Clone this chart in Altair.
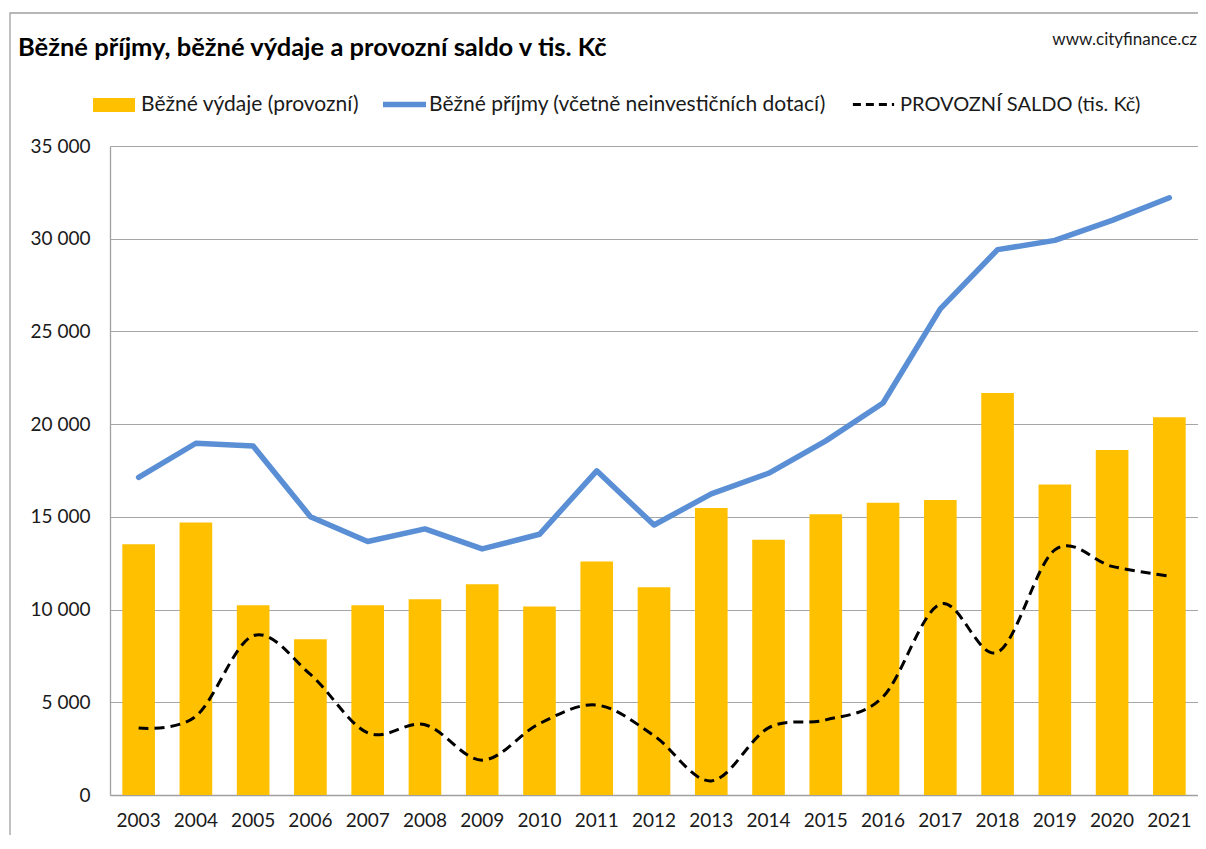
import altair as alt
import pandas as pd

years = [str(y) for y in range(2003, 2022)]
vydaje = [13520, 14690, 10230, 8400, 10230, 10550, 11360, 10160, 12590, 11200,
          15480, 13770, 15140, 15760, 15910, 21680, 16750, 18610, 20370]
prijmy = [17130, 18970, 18820, 15010, 13670, 14350, 13270, 14060, 17480, 14560,
          16240, 17350, 19100, 21140, 26220, 29410, 29910, 30990, 32210]
saldo = [3610, 4250, 8590, 6500, 3350, 3790, 1880, 3850, 4850, 3200,
         760, 3620, 4050, 5300, 10300, 7700, 13220, 12330, 11800]
y_ticks = [0, 5000, 10000, 15000, 20000, 25000, 30000, 35000]

name_v = "Běžné výdaje (provozní)"
name_p = "Běžné příjmy (včetně neinvestičních dotací)"
name_s = "PROVOZNÍ SALDO (tis. Kč)"
title_text = "Běžné příjmy, běžné výdaje a provozní saldo v tis. Kč"
source_text = "www.cityfinance.cz"

df = pd.DataFrame({"rok": years, "vydaje": vydaje, "prijmy": prijmy, "saldo": saldo,
                   "sv": name_v, "sp": name_p, "ss": name_s})

W, H = 1088, 649
FONT = "Lato"

x_enc = alt.X("rok:N", sort=years,
              scale=alt.Scale(paddingInner=0.43, paddingOuter=0.215),
              axis=alt.Axis(title=None, labelAngle=0, ticks=False, domain=True,
                            domainColor="#a0a0a0", domainWidth=1.3, grid=False,
                            labelFontSize=19, labelPadding=16, labelColor="#1a1a1a",
                            labelFont=FONT))
y_scale = alt.Scale(domain=[0, 35000], nice=False)
y_axis = alt.Axis(title=None, values=y_ticks, ticks=False, domain=True,
                  domainColor="#a0a0a0", domainWidth=1.3, grid=True,
                  gridColor="#a6a6a6", gridWidth=1.2, labelFontSize=19,
                  labelPadding=20, labelColor="#1a1a1a", labelFont=FONT,
                  labelExpr="replace(format(datum.value, ','), ',', ' ')")

base = alt.Chart(df)

legend_common = dict(title=None, orient="none", direction="horizontal",
                     labelFont=FONT, labelColor="#1a1a1a",
                     labelLimit=1000, padding=0)

bars = base.mark_bar(color="#FFC000").encode(
    x=x_enc,
    y=alt.Y("vydaje:Q", scale=y_scale, axis=y_axis),
    color=alt.Color("sv:N", scale=alt.Scale(domain=[name_v], range=["#FFC000"]),
                    legend=alt.Legend(legendX=-17, legendY=-62, labelOffset=6,
                                      labelFontSize=21,
                                      symbolType="M-1,-0.33L1,-0.33L1,0.33L-1,0.33Z",
                                      symbolSize=1764, symbolStrokeWidth=0,
                                      **legend_common)),
)

line_p = base.mark_line(strokeWidth=5.5, strokeCap="round", strokeJoin="round").encode(
    x=x_enc,
    y=alt.Y("prijmy:Q", scale=y_scale, axis=y_axis),
    color=alt.Color("sp:N", scale=alt.Scale(domain=[name_p], range=["#5A8FD5"]),
                    legend=alt.Legend(legendX=270, legendY=-66, labelOffset=0,
                                      labelFontSize=21, symbolType="stroke",
                                      symbolSize=1849, symbolStrokeWidth=5.5,
                                      **legend_common)),
)

line_s = base.mark_line(strokeWidth=3, strokeDash=[10, 6], interpolate="cardinal").encode(
    x=x_enc,
    y=alt.Y("saldo:Q", scale=y_scale, axis=y_axis),
    color=alt.Color("ss:N", scale=alt.Scale(domain=[name_s], range=["#000000"]),
                    legend=alt.Legend(legendX=741, legendY=-64, labelOffset=4,
                                      labelFontSize=20, symbolType="stroke",
                                      symbolSize=1700, symbolStrokeWidth=3,
                                      symbolDash=[8, 5], **legend_common)),
)

one = alt.Data(values=[{"k": 1}])
border = alt.Chart(one).mark_rect(filled=False, stroke="#a0a0a0", strokeWidth=1.3).encode(
    x=alt.value(-100), x2=alt.value(W + 100),
    y=alt.value(-133), y2=alt.value(H + 200),
)
source = alt.Chart(one).mark_text(align="right", baseline="alphabetic", font=FONT,
                                  fontSize=17, color="#1a1a1a").encode(
    x=alt.value(W - 1), y=alt.value(-101), text=alt.value(source_text),
)
title = alt.Chart(one).mark_text(align="left", baseline="alphabetic", font=FONT,
                                 fontSize=25.5, fontWeight="bold", color="#000000").encode(
    x=alt.value(-92), y=alt.value(-90), text=alt.value(title_text),
)

chart = alt.layer(border, bars, line_p, line_s, source, title).resolve_scale(
    color="independent"
).properties(
    width=W, height=H,
    autosize=alt.AutoSizeParams(type="none"),
    padding={"left": 102, "top": 138, "right": 0, "bottom": 40},
).configure_view(stroke=None)

chart.save("out.html", embed_options={"renderer": "svg", "actions": False})
